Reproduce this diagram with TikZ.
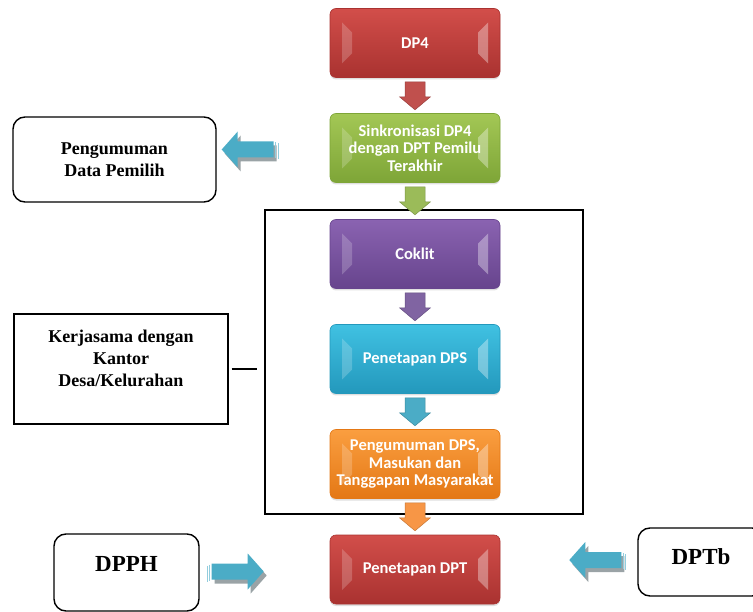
\documentclass[tikz,border=0pt]{standalone}
\usepackage{fontspec}
\setmainfont{Liberation Serif}
\newfontfamily\calib{Carlito}
\usetikzlibrary{positioning,calc,shadows}

\definecolor{redtop}{HTML}{D24E4A}
\definecolor{redbot}{HTML}{A93230}
\definecolor{greentop}{HTML}{A3C755}
\definecolor{greenbot}{HTML}{7EA537}
\definecolor{purpletop}{HTML}{8A63B1}
\definecolor{purplebot}{HTML}{67448D}
\definecolor{aquatop}{HTML}{40C1E2}
\definecolor{aquabot}{HTML}{2398BC}
\definecolor{orangetop}{HTML}{FA9E40}
\definecolor{orangebot}{HTML}{E47815}
\definecolor{arrowred}{HTML}{C0504D}
\definecolor{arrowgreen}{HTML}{9BBB59}
\definecolor{arrowpurple}{HTML}{8064A2}
\definecolor{arrowaqua}{HTML}{4BACC6}
\definecolor{arroworange}{HTML}{F79646}
\definecolor{shadowgray}{HTML}{9AA3A6}

\begin{document}
\begin{tikzpicture}[
    x=1pt, y=-1pt,
    bevel/.style={path picture={
        \fill[white, opacity=0.2, sharp corners] ([shift={(12pt,-14pt)}]path picture bounding box.north west) -- ([shift={(22pt,-24pt)}]path picture bounding box.north west) -- ([shift={(22pt,24pt)}]path picture bounding box.south west) -- ([shift={(12pt,14pt)}]path picture bounding box.south west) -- cycle;
        \fill[white, opacity=0.35, sharp corners] ([shift={(-12pt,-14pt)}]path picture bounding box.north east) -- ([shift={(-22pt,-24pt)}]path picture bounding box.north east) -- ([shift={(-22pt,24pt)}]path picture bounding box.south east) -- ([shift={(-12pt,14pt)}]path picture bounding box.south east) -- cycle;
    }},
    stage/.style={rounded corners=6pt, minimum width=170pt, minimum height=69pt, align=center, text=white, line width=0.6pt,
        font=\calib\bfseries\fontsize{16.5}{17.5}\selectfont, drop shadow={opacity=0.25, shadow xshift=0pt, shadow yshift=-2pt}, bevel},
    note/.style={draw, line width=1.4pt, rounded corners=12pt, align=center, font=\bfseries\fontsize{18}{22}\selectfont},
    tag/.style={draw, line width=1.4pt, rounded corners=12pt, font=\bfseries\fontsize{23}{27}\selectfont},
    group/.style={draw, line width=1.4pt},
    flowdown/.pic={
        \path[pic actions] (-10,0) -- (10,0) -- (10,15) -- (15.5,15) -- (0,28) -- (-15.5,15) -- (-10,15) -- cycle;
    },
    sideleft/.pic={
        \fill[shadowgray] (3,4) -- (19,-14) -- (19,-4) -- (55,-4) -- (55,12) -- (19,12) -- (19,22) -- cycle;
        \fill[arrowaqua] (0,0) -- (16,-18) -- (16,-8) -- (52,-8) -- (52,8) -- (16,8) -- (16,18) -- cycle;
        \draw[arrowaqua!60, line width=0.8pt] (54,-7) -- (54,9) (56.5,-6) -- (56.5,10);
    },
    sideright/.pic={
        \fill[shadowgray] (3,4) -- (-13,22) -- (-13,12) -- (-49,12) -- (-49,-4) -- (-13,-4) -- (-13,-14) -- cycle;
        \fill[arrowaqua] (0,0) -- (-16,18) -- (-16,8) -- (-52,8) -- (-52,-8) -- (-16,-8) -- (-16,-18) -- cycle;
        \draw[arrowaqua!60, line width=0.8pt] (-54,-7) -- (-54,9) (-56.5,-6) -- (-56.5,10);
    }
]
\useasboundingbox (0,0) rectangle (753,612);
\clip (0,0) rectangle (753,612);

% Frame round the stages done with the village offices
\node[group, minimum width=318pt, minimum height=304pt] (group) at (424,362) {};

% Stages
\node[stage, top color=redtop, bottom color=redbot, draw=redbot] (dp4) at (415,43) {DP4};
\node[stage, top color=greentop, bottom color=greenbot, draw=greenbot] (sinkron) at (415,148) {Sinkronisasi DP4\\dengan DPT Pemilu\\Terakhir};
\node[stage, top color=purpletop, bottom color=purplebot, draw=purplebot] (coklit) at (415,254) {Coklit};
\node[stage, top color=aquatop, bottom color=aquabot, draw=aquabot] (dps) at (415,359) {Penetapan DPS};
\node[stage, top color=orangetop, bottom color=orangebot, draw=orangebot] (umumdps) at (415,464) {Pengumuman DPS,\\Masukan dan\\Tanggapan Masyarakat};
\node[stage, top color=redtop, bottom color=redbot, draw=redbot] (dpt) at (415,569.5) {Penetapan DPT};

% Side boxes
\node[note, minimum width=203pt, minimum height=85pt] (umum) at (114.5,159.5) {Pengumuman\\Data Pemilih};
\node[note, sharp corners, minimum width=214pt, minimum height=110pt] (kerja) at (121,369) {Kerjasama dengan\\Kantor\\Desa/Kelurahan\\\mbox{}};
\node[tag, minimum width=145pt, minimum height=77pt, text height=16pt, text depth=18pt] (dpph) at (126.5,572.5) {DPPH};
\node[tag, minimum width=126pt, minimum height=68pt, text height=16pt, text depth=11pt] (dptb) at (701,562) {DPTb};

% Down arrows between the stages
\pic[fill=arrowred, draw=arrowred!80!black, line width=0.5pt] at ($(dp4.south)+(0,4)$) {flowdown};
\pic[fill=arrowgreen, draw=arrowgreen!80!black, line width=0.5pt] at ($(sinkron.south)+(0,4)$) {flowdown};
\pic[fill=arrowpurple, draw=arrowpurple!80!black, line width=0.5pt] at ($(coklit.south)+(0,4)$) {flowdown};
\pic[fill=arrowaqua, draw=arrowaqua!80!black, line width=0.5pt] at ($(dps.south)+(0,4)$) {flowdown};
\pic[fill=arroworange, draw=arroworange!80!black, line width=0.5pt] at ($(umumdps.south)+(0,4)$) {flowdown};

% Side arrows
\pic at ($(umum.east)+(5,-10)$) {sideleft};
\pic at ($(dpph.east)+(64,-1)$) {sideright};
\pic at ($(dptb.west)+(-68,-2)$) {sideleft};

% Link to the frame
\draw[line width=1.4pt] ([xshift=3pt]kerja.east) -- ([xshift=-7pt]group.west |- kerja.east);

\end{tikzpicture}
\end{document}
